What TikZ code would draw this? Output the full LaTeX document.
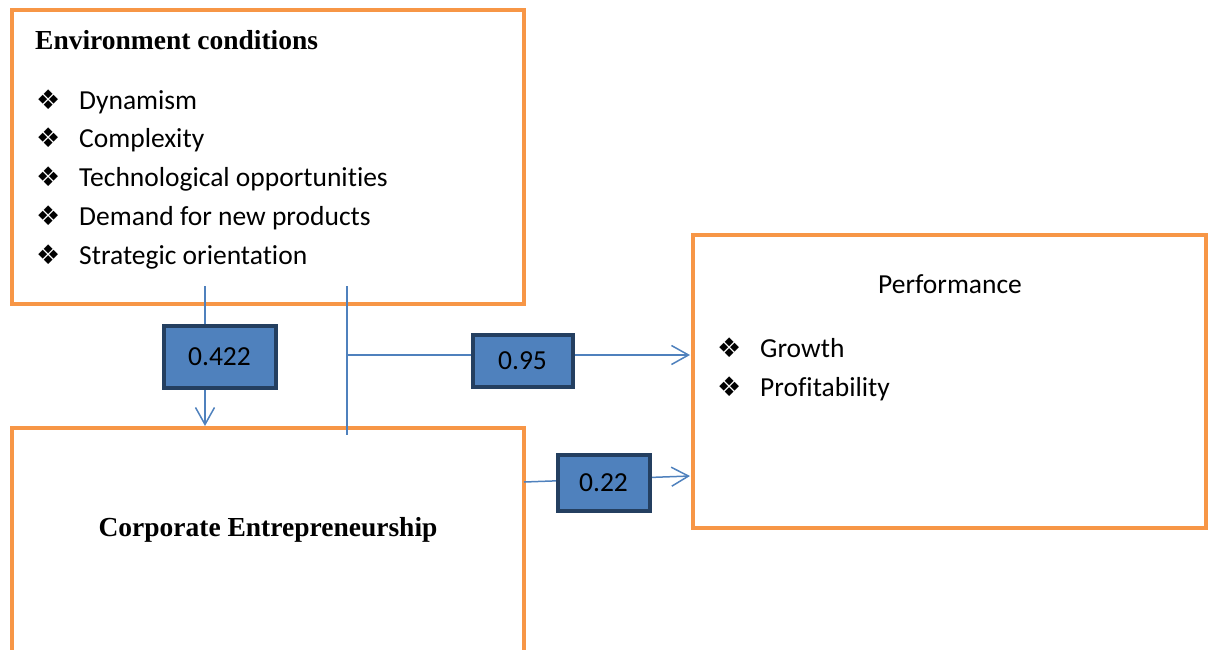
\documentclass[tikz,border=0pt]{standalone}
\usepackage{fontspec}
\setmainfont{Carlito}[Ligatures=NoCommon]
\newfontfamily\titlefont{Liberation Serif}
\newfontfamily\symfont{DejaVu Sans}
\usetikzlibrary{arrows.meta}
\definecolor{boxorange}{HTML}{F79646}
\definecolor{linkblue}{HTML}{4F81BD}
\definecolor{labeldark}{HTML}{243F60}
\newcommand{\dia}{{\symfont\fontsize{27}{27}\selectfont ❖}}
\tikzset{
  x=1pt, y=-1pt,
  obox/.style={draw=boxorange, line width=4pt, fill=white, inner sep=0pt},
  coef/.style={draw=labeldark, line width=4pt, fill=linkblue, inner sep=0pt,
    font=\fontsize{27.5}{30}\selectfont},
  link/.style={draw=linkblue, line width=1.5pt},
  tip/.style={-{Straight Barb[length=17pt,width=19pt,line width=1.5pt]}},
  item/.style={anchor=base west, inner sep=0pt, font=\fontsize{27.5}{30}\selectfont},
  head/.style={anchor=base, inner sep=0pt, font=\titlefont\bfseries\fontsize{27.5}{30}\selectfont},
}
\begin{document}
\begin{tikzpicture}
\useasboundingbox (0,0) rectangle (1209,649);
\clip (0,0) rectangle (1209,649);

% the three construct boxes
\node[obox, minimum width=512pt, minimum height=294pt] (env) at (268,157) {};
\node[obox, minimum width=512pt, minimum height=300pt] (corp) at (268,578) {};
\node[obox, minimum width=513pt, minimum height=293pt] (perf) at (949.5,381.5) {};

% box contents
\node[anchor=base west, inner sep=0pt, font=\titlefont\bfseries\fontsize{27.5}{30}\selectfont] (envt) at (35,49) {Environment conditions};
\foreach \txt [count=\i] in {Dynamism,Complexity,Technological opportunities,Demand for new products,Strategic orientation}{
  \node[item] (eb\i) at (36,{100+38.8*(\i-1)+9}) {\dia};
  \node[item] (ei\i) at (79,{100+38.8*(\i-1)+9}) {\txt};
}
\node[anchor=base, inner sep=0pt, font=\fontsize{27.5}{30}\selectfont] (perft) at (950,293) {Performance};
\node[item] (pb1) at (717,357) {\dia};
\node[item] (pi1) at (760,357) {Growth};
\node[item] (pb2) at (717,396) {\dia};
\node[item] (pi2) at (760,396) {Profitability};
\node[head] (corpt) at (268,536) {Corporate Entrepreneurship};

% path coefficients
\coordinate (s1) at (205,286);
\coordinate (s2) at (347,286);
\coordinate (e2) at (347,435);
\coordinate (j2) at (347,355);
\coordinate (p1) at (690,355);
\coordinate (c3) at (524,482);
\coordinate (p2) at (690,476);

\draw[link, tip] (s1) -- (s1 |- corp.north);
\draw[link] (s2) -- (e2);
\draw[link, tip] (j2) -- (p1);
\draw[link, tip] (c3) -- (p2);

\node[coef, minimum width=112pt, minimum height=62pt] (k1) at (219.5,356.5) {0.422};
\node[coef, minimum width=100pt, minimum height=52pt] (k2) at (522.5,360.5) {0.95};
\node[coef, minimum width=92pt, minimum height=56pt] (k3) at (603.5,482.5) {0.22};
\end{tikzpicture}
\end{document}
